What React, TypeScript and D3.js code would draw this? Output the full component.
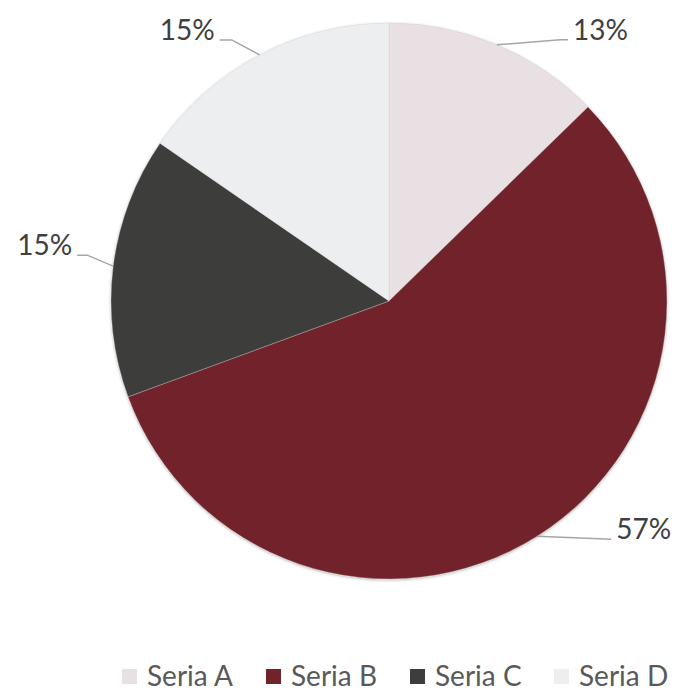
import React from "react";
import * as d3 from "d3";

const categories = ["Seria A", "Seria B", "Seria C", "Seria D"];
const values = [12.7, 56.7, 15.2, 15.4];
const colors = ["#E8E0E3", "#71232B", "#3C3E3B", "#EDEEF0"];

// label layout (leader elbow offsets relative to the arc point, label side)
const labelLayout = [
  { elbow: [63, -5], end: [71, -5], side: 1 },
  { elbow: [74, 3], end: [74, 3], side: 1 },
  { elbow: [-26, -11], end: [-36, -11], side: -1 },
  { elbow: [-28, -15], end: [-40, -15], side: -1 },
];

const W = 677;
const H = 690;
const cx = 389;
const cy = 301;
const R = 278;
const FONT = "Lato, 'Open Sans', sans-serif";

export default function App() {
  const total = d3.sum(values);
  const pie = d3
    .pie<number>()
    .sort(null)
    .value((d) => d)
    .startAngle(0)
    .endAngle(2 * Math.PI);
  const arcs = pie(values);
  const arc = d3.arc<d3.PieArcDatum<number>>().innerRadius(0).outerRadius(R);

  const legendX = d3.scaleLinear().domain([0, 1]).range([122, 266]);

  return (
    <svg
      width={W}
      height={H}
      style={{ position: "absolute", left: 0, top: 0, background: "#fff" }}
    >
      <defs>
        <filter id="sh" x="-10%" y="-10%" width="120%" height="120%">
          <feDropShadow dx="0" dy="1" stdDeviation="1.6" floodColor="#000" floodOpacity="0.3" />
        </filter>
      </defs>
      <g transform={`translate(${cx},${cy})`}>
        <g filter="url(#sh)">
          {arcs.map((a, i) => (
            <path key={i} d={arc(a) || ""} fill={colors[i]} stroke="#c9c9c9" strokeOpacity={0.6} strokeWidth={0.6} />
          ))}
        </g>
        {arcs.map((a, i) => {
          const mid = (a.startAngle + a.endAngle) / 2;
          const px = R * Math.sin(mid);
          const py = -R * Math.cos(mid);
          const L = labelLayout[i];
          const ex = px + L.elbow[0];
          const ey = py + L.elbow[1];
          const tx = px + L.end[0];
          const ty = py + L.end[1];
          const pct = Math.round((values[i] / total) * 100);
          return (
            <g key={"l" + i}>
              <polyline
                points={`${px},${py} ${ex},${ey} ${tx},${ty}`}
                fill="none"
                stroke="#A6A6A6"
                strokeWidth={1.5}
              />
              <text
                x={tx + L.side * 5}
                y={ty}
                textAnchor={L.side > 0 ? "start" : "end"}
                fontFamily={FONT}
                fontSize={28}
                fill="#404040"
              >
                {pct}%
              </text>
            </g>
          );
        })}
      </g>
      <g>
        {categories.map((c, i) => {
          const x = legendX(i);
          return (
            <g key={c}>
              <rect x={x} y={669} width={15} height={15} fill={colors[i]} />
              <text x={x + 25} y={686} fontFamily={FONT} fontSize={28} fill="#595959">
                {c}
              </text>
            </g>
          );
        })}
      </g>
    </svg>
  );
}
